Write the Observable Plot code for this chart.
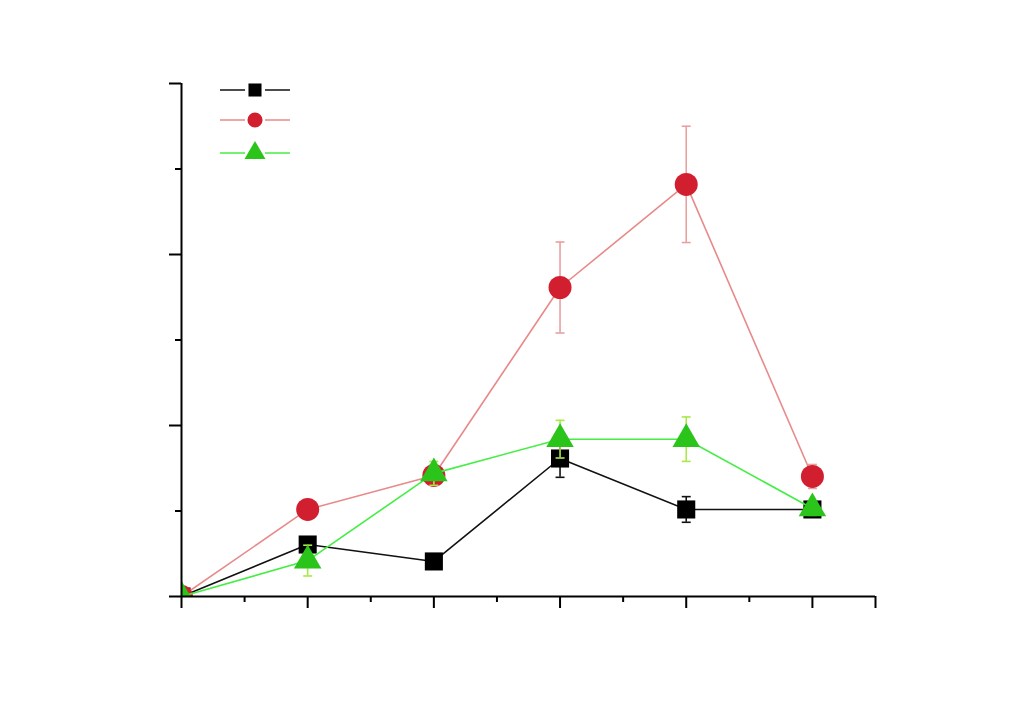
<!DOCTYPE html>
<html>
<head>
<meta charset="utf-8">
<script src="https://cdn.jsdelivr.net/npm/d3@7"></script>
<script src="https://cdn.jsdelivr.net/npm/@observablehq/plot@0.6"></script>
<style>
  html, body { margin: 0; padding: 0; background: #ffffff; }
  #wrap { position: relative; width: 1016px; height: 714px; }
  #legend { position: absolute; left: 0; top: 0; }
</style>
</head>
<body>
<div id="wrap"><div id="chart"></div><svg id="legend" width="320" height="180"></svg></div>
<script>
// ---- data ----
const xs = [0, 1, 2, 3, 4, 5];
const blackY   = [0, 3.04, 2.05, 8.07, 5.09, 5.09];
const blackErr = [0, 0.3, 0.2, 1.1, 0.75, 0.4];
const redY     = [0, 5.09, 7.08, 18.07, 24.1, 7.02];
const redErr   = [0, 0.5, 0.5, 2.66, 3.4, 0.7];
const greenY   = [0, 2.1, 7.2, 9.2, 9.2, 5.15];
const greenErr = [0, 0.9, 0.7, 1.1, 1.3, 0.4];
const yMajor = [0, 10, 20, 30];
const yMinor = [5, 15, 25];
const xMajor = [0, 1, 2, 3, 4, 5, 5.5];
const xMinor = [0.5, 1.5, 2.5, 3.5, 4.5];

const series = [
  {name: "black", ys: blackY, es: blackErr, line: "#111111", fill: "#000000", err: "#111111", symbol: "square", r: 10.2},
  {name: "red", ys: redY, es: redErr, line: "#e88a8a", fill: "#d21f30", err: "#e8a0a0", symbol: "circle", r: 11.5},
  {name: "green", ys: greenY, es: greenErr, line: "#44ee44", fill: "#2bc41b", err: "#a8e84a", symbol: "triangle", r: 10.2}
];

const capSymbol = { draw(ctx) { ctx.moveTo(-4.5, 0); ctx.lineTo(4.5, 0); } };

const marks = [];
for (const s of series) {
  const rows = xs.map((x, i) => ({x, y: s.ys[i], lo: s.ys[i] - s.es[i], hi: s.ys[i] + s.es[i]}));
  marks.push(Plot.line(rows, {x: "x", y: "y", stroke: s.line, strokeWidth: 1.6}));
  const er = rows.filter(d => d.hi > d.lo);
  marks.push(Plot.ruleX(er, {x: "x", y1: "lo", y2: "hi", stroke: s.err, strokeWidth: 1.6}));
  marks.push(Plot.dot(er, {x: "x", y: "lo", symbol: capSymbol, stroke: s.err, strokeWidth: 1.6, r: 3}));
  marks.push(Plot.dot(er, {x: "x", y: "hi", symbol: capSymbol, stroke: s.err, strokeWidth: 1.6, r: 3}));
  marks.push(Plot.dot(rows, {x: "x", y: "y", symbol: s.symbol, fill: s.fill, stroke: "none", r: s.r, clip: true}));
}

const chart = Plot.plot({
  width: 1016,
  height: 714,
  marginLeft: 181,
  marginRight: 141,
  marginTop: 83,
  marginBottom: 118,
  style: {background: "transparent", overflow: "visible"},
  x: {domain: [0, 5.5], axis: null},
  y: {domain: [0, 30], axis: null},
  marks: [
    ...marks,
    Plot.ruleX([0], {stroke: "#000", strokeWidth: 2}),
    Plot.ruleY([0], {stroke: "#000", strokeWidth: 2}),
    Plot.axisY(yMajor, {tickSize: 12, tickFormat: () => "", stroke: "#000", strokeWidth: 2, label: null}),
    Plot.axisY(yMinor, {tickSize: 6, tickFormat: () => "", stroke: "#000", strokeWidth: 2, label: null}),
    Plot.axisX(xMajor, {tickSize: 12, tickFormat: () => "", stroke: "#000", strokeWidth: 2, label: null}),
    Plot.axisX(xMinor, {tickSize: 6, tickFormat: () => "", stroke: "#000", strokeWidth: 2, label: null})
  ]
});
document.getElementById("chart").appendChild(chart);

// ---- legend ----
const leg = d3.select("#legend");
const legRows = [
  {s: series[0], y: 90, size: 170},
  {s: series[1], y: 120, size: 180},
  {s: series[2], y: 153, size: 190}
];
const symMap = {square: d3.symbolSquare, circle: d3.symbolCircle, triangle: d3.symbolTriangle};
for (const r of legRows) {
  leg.append("line").attr("x1", 220).attr("x2", 245).attr("y1", r.y).attr("y2", r.y).attr("stroke", r.s.line).attr("stroke-width", 1.5);
  leg.append("line").attr("x1", 265).attr("x2", 290).attr("y1", r.y).attr("y2", r.y).attr("stroke", r.s.line).attr("stroke-width", 1.5);
  leg.append("path").attr("d", d3.symbol(symMap[r.s.symbol], r.size)()).attr("transform", `translate(255,${r.y})`).attr("fill", r.s.fill);
}
</script>
</body>
</html>
